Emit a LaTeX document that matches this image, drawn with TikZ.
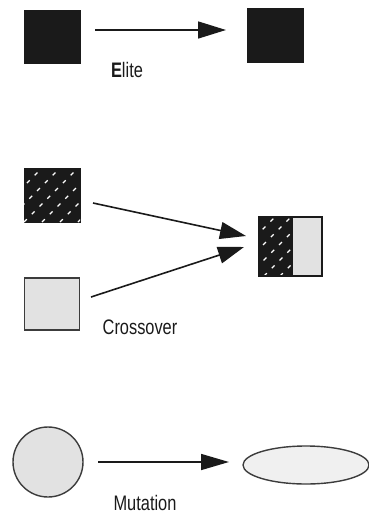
\documentclass[tikz,border=0pt]{standalone}
\usepackage{fontspec}
\setmainfont{Liberation Sans}
\usetikzlibrary{arrows.meta,shapes.geometric}
\definecolor{lg}{HTML}{E2E2E2}
\definecolor{dk}{HTML}{1A1A1A}
\begin{document}
\begin{tikzpicture}[x=1pt,y=-1pt,
  solid/.style={draw=dk,fill=dk,line width=1pt},
  grey/.style={draw=dk!85,fill=lg,line width=1.4pt},
  conn/.style={draw=dk,line width=1.6pt,-{Triangle[length=28pt,width=17pt]}},
  lbl/.style={font=\fontsize{21}{21}\selectfont,xscale=0.78,text=dk,inner sep=0pt}]
\useasboundingbox (0,0) rectangle (368,515);
% Elite
\node[solid,minimum width=56pt,minimum height=53pt,inner sep=0pt] (e1) at (52,36.5) {};
\node[solid,minimum width=56pt,minimum height=54pt,inner sep=0pt] (e2) at (275,35) {};
\draw[conn] (95,30) coordinate (ea) -- (226,30) coordinate (eb);
\node[lbl] (el) at (127,70) {\textbf{E}lite};
% Crossover
\node[solid,minimum width=56pt,minimum height=54pt,inner sep=0pt] (c1) at (52,195) {};
\begin{scope}
\clip (24,168) rectangle (80,222);
\foreach \k in {0,18,...,126}{
  \draw[white,line width=1.2pt,dash pattern=on 4pt off 7pt] (24+\k-54,222) -- (24+\k,168);
}
\end{scope}
\node[grey,minimum width=55pt,minimum height=52pt,inner sep=0pt] (c2) at (52,304) {};
\node[draw=dk,line width=1.4pt,minimum width=63pt,minimum height=59pt,inner sep=0pt] (c3) at (290.5,246.5) {};
\fill[dk] (259,217) rectangle (292,276);
\fill[lg] (292,217) rectangle (322,276);
\begin{scope}
\clip (259,217) rectangle (292,276);
\foreach \k in {0,16,...,96}{
  \draw[white,line width=1.2pt,dash pattern=on 4pt off 7pt] (259+\k-59,276) -- (259+\k,217);
}
\end{scope}
\draw[dk,line width=1.4pt] (259,217) rectangle (322,276);
\draw[dk,line width=1.2pt] (292,217) -- (292,276);
\draw[conn,-{Triangle[length=26pt,width=17pt]}] (93,203) coordinate (ca) -- (246,236) coordinate (cb);
\draw[conn,-{Triangle[length=26pt,width=17pt]}] (91,297) coordinate (cc) -- (244,247) coordinate (cd);
\node[lbl] (cl) at (140,327) {Crossover};
% Mutation
\node[grey,circle,minimum size=70pt,inner sep=0pt] (m1) at (48,462) {};
\node[grey,ellipse,fill=lg!50,minimum width=126pt,minimum height=38pt,inner sep=0pt] (m2) at (306,465) {};
\draw[conn,-{Triangle[length=28pt,width=16pt]}] (98,462) coordinate (ma) -- (229,462) coordinate (mb);
\node[lbl] (ml) at (145,503) {Mutation};
\end{tikzpicture}
\end{document}
